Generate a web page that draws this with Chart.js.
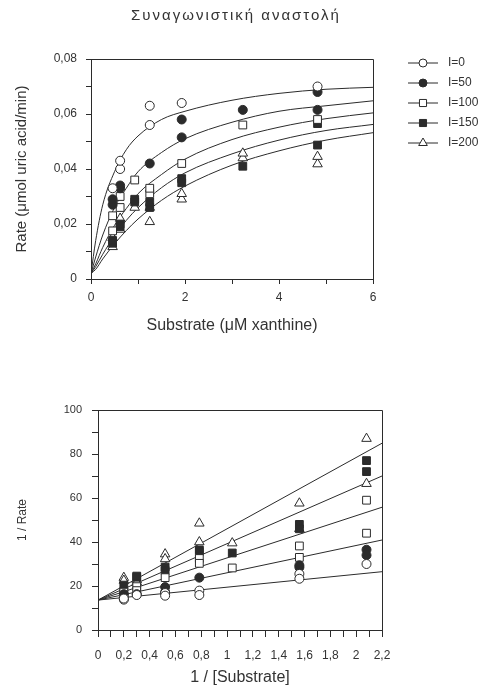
<!DOCTYPE html>
<html>
<head>
<meta charset="utf-8">
<script src="https://cdn.jsdelivr.net/npm/chart.js@4.4.0/dist/chart.umd.min.js"></script>
<style>
  body { margin: 0; background: #fff; width: 483px; height: 688px; position: relative; overflow: hidden; }
  #title { position: absolute; top: 6px; left: 0; width: 472px; text-align: center;
           font: 15px "Liberation Sans", Arial, sans-serif; letter-spacing: 2px; color: #333; }
  #top { position: absolute; left: 0; top: 0; }
  #bottom { position: absolute; left: 0; top: 345px; }
</style>
</head>
<body>
<canvas id="top" width="483" height="345"></canvas>
<canvas id="bottom" width="483" height="343"></canvas>
<div id="title">Συναγωνιστική αναστολή</div>
<script>
// series
const seriesLabels = ['I=0', 'I=50', 'I=100', 'I=150', 'I=200'];

// Michaelis-Menten plot: measured rates (two replicates per inhibitor level)
const substrate = [0.46, 0.62, 0.93, 1.25, 1.93, 3.23, 4.82];
const rate0   = [[0.033, 0.043, null, 0.063, 0.064, null, 0.070], [null, 0.040, null, 0.056, null, null, null]];
const rate50  = [[0.029, 0.034, null, 0.042, 0.058, 0.0615, 0.068], [0.027, 0.033, null, null, 0.0515, null, 0.0615]];
const rate100 = [[0.023, 0.030, 0.036, 0.033, 0.042, 0.056, 0.058], [0.0175, 0.026, null, 0.031, null, null, null]];
const rate150 = [[0.014, 0.020, 0.029, 0.028, 0.0365, 0.041, 0.0565], [0.013, 0.019, 0.028, 0.026, 0.035, null, 0.0487]];
const rate200 = [[0.015, 0.022, 0.026, 0.026, 0.031, 0.0457, 0.0445], [0.0117, 0.018, null, 0.0208, 0.029, 0.044, 0.0418]];

// fitted curves
const curveX   = [0, 0.1, 0.25, 0.5, 0.75, 1, 1.5, 2, 3, 4, 5, 6];
const curve0   = [0.002, 0.014, 0.027, 0.039, 0.047, 0.052, 0.058, 0.061, 0.065, 0.0675, 0.069, 0.0697];
const curve50  = [0.002, 0.008, 0.016, 0.026, 0.033, 0.039, 0.046, 0.051, 0.057, 0.061, 0.063, 0.0648];
const curve100 = [0.002, 0.0055, 0.0115, 0.0195, 0.0256, 0.031, 0.038, 0.0436, 0.0507, 0.0552, 0.0583, 0.0604];
const curve150 = [0.002, 0.0045, 0.009, 0.0157, 0.0213, 0.0259, 0.0332, 0.0386, 0.0455, 0.0505, 0.054, 0.0562];
const curve200 = [0.002, 0.0035, 0.0073, 0.0128, 0.0176, 0.0218, 0.0286, 0.0338, 0.0414, 0.0466, 0.0505, 0.0532];

// Lineweaver-Burk plot
const invSubstrate = [0.2, 0.3, 0.52, 0.785, 1.04, 1.56, 2.08];
const inv0   = [[14.3, 15.9, 15.6, 15.9, null, 23.3, 30], [13.8, null, 16.8, 17.9, null, 25.5, null]];
const inv50  = [[14.7, 16.3, 17.2, 23.8, null, 29.4, 34], [16.3, null, 19.5, null, null, 28.5, 36.5]];
const inv100 = [[17.2, 17.9, 23.8, 30.3, 28.2, 33, 44], [null, 19.7, null, 32.5, null, 38.2, 59]];
const inv150 = [[17.5, 24.5, 27, 35.7, 35, 46, 72], [20.4, 24, 28.6, 36.4, null, 48, 77]];
const inv200 = [[22.5, 21.7, 32.3, 40, 39.5, 46, 66.5], [23.8, 22.7, 34.5, 48.5, null, 57.6, 87]];
const lineX   = [0, 2.2];
const line0   = [13.6, 26.5];
const line50  = [13.6, 40.9];
const line100 = [13.6, 55.8];
const line150 = [13.6, 70];
const line200 = [13.6, 84.9];

// tick labels
const topXLabels = ['0', '2', '4', '6'];
const topYLabels = ['0', '0,02', '0,04', '0,06', '0,08'];
const botXLabels = ['0', '0,2', '0,4', '0,6', '0,8', '1', '1,2', '1,4', '1,6', '1,8', '2', '2,2'];
const botYLabels = ['0', '20', '40', '60', '80', '100'];

const ink = '#333';
const lineInk = '#2b2b2b';
Chart.defaults.font.family = '"Liberation Sans", Arial, sans-serif';
Chart.defaults.color = ink;

const markerStyle = ['circle', 'circle', 'rect', 'rect', 'triangle'];
const markerFill = ['#fff', lineInk, '#fff', lineInk, '#fff'];
const markerRadius = [4.5, 4.5, 5.5, 5.5, 5.5];

function pointSets(xs, groups) {
  const sets = [];
  groups.forEach((reps, i) => {
    reps.forEach(ys => {
      sets.push({
        data: xs.map((x, j) => ({ x: x, y: ys[j] })).filter(p => p.y !== null),
        showLine: false,
        pointStyle: markerStyle[i],
        pointRadius: markerRadius[i],
        pointBackgroundColor: markerFill[i],
        pointBorderColor: lineInk,
        pointBorderWidth: 1,
        order: 1
      });
    });
  });
  return sets;
}

function lineSets(xs, lines, smooth) {
  return lines.map(ys => ({
    data: xs.map((x, j) => ({ x: x, y: ys[j] })),
    showLine: true,
    pointRadius: 0,
    borderColor: lineInk,
    borderWidth: 1,
    cubicInterpolationMode: smooth ? 'monotone' : 'default',
    order: 2
  }));
}

const frame = {
  id: 'frame',
  beforeDatasetsDraw(chart) {
    const { ctx, chartArea: a } = chart;
    ctx.save();
    ctx.strokeStyle = lineInk;
    ctx.lineWidth = 1;
    ctx.beginPath();
    ctx.moveTo(a.left, a.top + 0.5);
    ctx.lineTo(a.right + 0.5, a.top + 0.5);
    ctx.lineTo(a.right + 0.5, a.bottom);
    ctx.stroke();
    ctx.restore();
  }
};

function marker(ctx, style, r, x, y) {
  ctx.beginPath();
  if (style === 'circle') {
    ctx.arc(x, y, r, 0, Math.PI * 2);
  } else if (style === 'rect') {
    const s = r * Math.SQRT1_2;
    ctx.rect(x - s, y - s, 2 * s, 2 * s);
  } else {
    ctx.moveTo(x, y - r);
    ctx.lineTo(x + r * 0.866, y + r * 0.5);
    ctx.lineTo(x - r * 0.866, y + r * 0.5);
    ctx.closePath();
  }
  ctx.fill();
  ctx.stroke();
}

const legendLines = {
  id: 'legendLines',
  afterDraw(chart) {
    const ctx = chart.ctx;
    ctx.save();
    ctx.strokeStyle = lineInk;
    ctx.lineWidth = 1;
    ctx.font = '12px "Liberation Sans", Arial, sans-serif';
    ctx.textBaseline = 'middle';
    seriesLabels.forEach((label, i) => {
      const y = 63 + i * 20;
      ctx.beginPath();
      ctx.moveTo(408, y);
      ctx.lineTo(438, y);
      ctx.stroke();
      ctx.fillStyle = markerFill[i];
      marker(ctx, markerStyle[i], markerRadius[i] - 0.5, 423, y);
      ctx.fillStyle = ink;
      ctx.fillText(label, 448, y);
    });
    ctx.restore();
  }
};

function axis(min, max, step, labels, tickLen, pad, size, title, titleSize, titlePad, fit) {
  return {
    type: 'linear', min: min, max: max,
    border: { color: lineInk, width: 1 },
    grid: { drawOnChartArea: false, drawTicks: true, tickLength: tickLen, tickColor: lineInk },
    ticks: {
      stepSize: step, autoSkip: false, maxRotation: 0, padding: pad, color: ink,
      font: { size: size },
      callback: (v, i) => (i % 2 === 0 ? labels[i / 2] : '')
    },
    title: { display: true, text: title, color: ink, font: { size: titleSize }, padding: titlePad },
    afterFit: fit
  };
}

new Chart(document.getElementById('top'), {
  type: 'scatter',
  data: {
    datasets: pointSets(substrate, [rate0, rate50, rate100, rate150, rate200])
      .concat(lineSets(curveX, [curve0, curve50, curve100, curve150, curve200], true))
  },
  options: {
    responsive: false,
    animation: false,
    layout: { padding: { left: 0, right: 110, top: 59, bottom: 0 } },
    plugins: { legend: { display: false }, tooltip: { enabled: false } },
    scales: {
      x: axis(0, 6, 1, topXLabels, 5, 6, 12, 'Substrate (μM xanthine)', 16, { top: 0, bottom: 10 },
        s => { s.height = 66; }),
      y: axis(0, 0.08, 0.01, topYLabels, 5, 9, 12, 'Rate (μmol uric acid/min)', 15, { top: 13, bottom: 0 },
        s => { s.width = 91; })
    }
  },
  plugins: [frame, legendLines]
});

new Chart(document.getElementById('bottom'), {
  type: 'scatter',
  data: {
    datasets: pointSets(invSubstrate, [inv0, inv50, inv100, inv150, inv200])
      .concat(lineSets(lineX, [line0, line50, line100, line150, line200], false))
  },
  options: {
    responsive: false,
    animation: false,
    layout: { padding: { left: 0, right: 101, top: 65, bottom: 0 } },
    plugins: { legend: { display: false }, tooltip: { enabled: false } },
    scales: {
      x: axis(0, 2.2, 0.1, botXLabels, 7, 11, 12, '1 / [Substrate]', 16, { top: 0, bottom: 1 },
        s => { s.height = 58; }),
      y: axis(0, 100, 10, botYLabels, 6, 10, 11, '1 / Rate', 12, { top: 15, bottom: 0 },
        s => { s.width = 98; })
    }
  },
  plugins: [frame]
});
</script>
</body>
</html>
